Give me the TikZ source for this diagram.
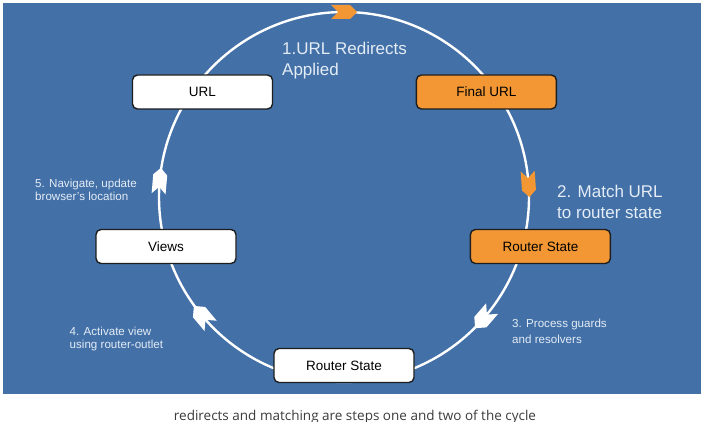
\documentclass[tikz,border=0pt]{standalone}
\usepackage{fontspec}
\setmainfont{Liberation Sans}
\newfontfamily\captionfont{Open Sans}
\usepackage{xcolor}
\usepackage{tikz}
\usetikzlibrary{shapes,arrows,positioning}
\definecolor{rcBlue}{RGB}{66,112,167}
\definecolor{rcOrange}{RGB}{242,151,52}
\definecolor{rcLabel}{RGB}{228,236,246}
\definecolor{rcEdge}{RGB}{30,30,30}
\definecolor{rcCaption}{RGB}{60,60,60}

\begin{document}
\begin{tikzpicture}[x=1pt, y=-1pt,
  box/.style={draw=rcEdge, line width=1.4pt, rounded corners=5pt, fill=white,
    minimum width=140pt, minimum height=34pt, inner sep=0pt,
    font=\fontsize{13.5}{16}\selectfont},
  ring/.style={draw=white, line width=2.4pt},
  chev/.style={signal, signal to=east, signal from=west, fill=white,
    minimum width=26pt, minimum height=14pt, inner sep=0pt},
  steptext/.style={text=rcLabel, align=left, anchor=north west, inner sep=0pt}]
  \useasboundingbox (0,0) rectangle (701,422);
  \fill[white] (0,0) rectangle (701,422);
  \fill[rcBlue] (3,3) rectangle (701,394);

  % the cycle
  \coordinate (hub) at (344,197);
  \draw[ring] (hub) circle[radius=185];

  \node[box] (url) at (202.5,92) {URL};
  \node[box, fill=rcOrange, right=142.5pt of url] (final) {Final URL};
  \node[box] (views) at (166,246.5) {Views};
  \node[box, fill=rcOrange, right=233pt of views] (match) {Router State};
  \node[box] (state) at (344,365.5) {Router State};

  % direction marks on the ring
  \node[chev, fill=rcOrange, rotate=0] (m1) at ([shift={(-90:185)}]hub) {};
  \node[chev, fill=rcOrange, rotate=-86] (m2) at ([shift={(-4:185)}]hub) {};
  \node[chev, minimum height=16pt, rotate=-131] (m3) at ([shift={(41:185)}]hub) {};
  \node[chev, minimum height=16pt, rotate=130] (m4) at ([shift={(140:185)}]hub) {};
  \node[chev, rotate=85] (m5) at ([shift={(185:185)}]hub) {};

  % step labels
  \node[steptext, font=\fontsize{17}{21}\selectfont] (step1) at (282,41.5) {1.URL Redirects\\Applied};
  \node[steptext, font=\fontsize{17}{21}\selectfont] (step2) at (557,185) {2. Match URL\\to router state};
  \node[steptext, font=\fontsize{11.6}{15.5}\selectfont] (step3) at (512,319) {3. Process guards\\and resolvers};
  \node[steptext, font=\fontsize{11.6}{13.5}\selectfont] (step4) at (69.5,326.5) {4. Activate view\\using router-outlet};
  \node[steptext, font=\fontsize{11.6}{13.5}\selectfont] (step5) at (35,178.5) {5. Navigate, update\\browser's location};

  \node[font=\captionfont\fontsize{13.5}{16}\selectfont, text=rcCaption, anchor=base] (caption) at (355,420)
    {redirects and matching are steps one and two of the cycle};
\end{tikzpicture}
\end{document}
